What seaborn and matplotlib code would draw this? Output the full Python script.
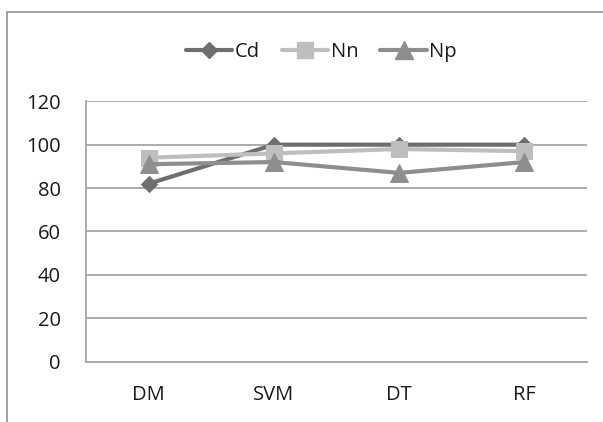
import matplotlib
matplotlib.use("Agg")
import matplotlib.pyplot as plt
from matplotlib.lines import Line2D
import seaborn as sns
import pandas as pd

categories = ["DM", "SVM", "DT", "RF"]
cd_values = [82, 100, 100, 100]
nn_values = [94, 96, 98, 97]
np_values = [91, 92, 87, 92]
series_names = ["Cd", "Nn", "Np"]
y_ticks = [0, 20, 40, 60, 80, 100, 120]

sns.set_theme(style="white")
plt.rcParams["font.family"] = ["Open Sans", "DejaVu Sans"]

df = pd.DataFrame({
    "category": categories * 3,
    "value": cd_values + nn_values + np_values,
    "series": [s for s in series_names for _ in categories],
})

colors = {"Cd": "#6E6E6E", "Nn": "#BEBEBE", "Np": "#8E8E8E"}
markers = {"Cd": "D", "Nn": "s", "Np": "^"}
msizes = {"Cd": 8.5, "Nn": 12, "Np": 13}
fs = 14.5

fig = plt.figure(figsize=(6.03, 4.22), dpi=100)
ax = fig.add_axes([0.1426, 0.1429, 0.9735 - 0.1426, 0.76 - 0.1429])

grid_c = "#A6A6A6"
for yv in y_ticks:
    ax.axhline(yv, color=grid_c, lw=1.3, zorder=0)

for s in series_names:
    sub = df[df["series"] == s]
    sns.lineplot(data=sub, x="category", y="value", ax=ax, color=colors[s],
                 marker=markers[s], markersize=msizes[s], markeredgecolor=colors[s],
                 linewidth=3, sort=False, label=s, legend=False, zorder=3)

ax.set_xlim(-0.5, 3.5)
ax.set_ylim(0, 120)
ax.set_yticks(y_ticks)
ax.set_xticks(range(len(categories)))
ax.set_xticklabels(categories)
ax.set_xticks([-0.5, 0.5, 1.5, 2.5, 3.5], minor=True)
ax.tick_params(axis="x", which="major", length=0, pad=16.5, labelsize=fs, labelcolor="#1A1A1A")
ax.tick_params(axis="x", which="minor", length=8, width=1.3, color=grid_c, direction="out")
ax.tick_params(axis="y", which="major", length=8, width=1.3, color=grid_c, direction="out",
               labelsize=fs, pad=10, labelcolor="#1A1A1A")
ax.set_xlabel("")
ax.set_ylabel("")
for side in ["top", "right"]:
    ax.spines[side].set_visible(False)
ax.spines["left"].set_color(grid_c)
ax.spines["left"].set_linewidth(1.3)
ax.spines["bottom"].set_color(grid_c)
ax.spines["bottom"].set_linewidth(1.3)

handles = [Line2D([], [], color=colors[s], marker=markers[s], markersize=msizes[s],
                  markeredgecolor=colors[s], linewidth=3) for s in series_names]
fig.legend(handles, series_names, loc="center", bbox_to_anchor=(0.533, 0.877), ncol=3,
           frameon=False, fontsize=fs, handlelength=2.3, handletextpad=0.12,
           columnspacing=1.1, labelcolor="#1A1A1A")

# outer chart border (top and left visible)
fig.add_artist(Line2D([7 / 603, 1.0], [1 - 12 / 422, 1 - 12 / 422], color="#9A9A9A",
                      lw=1.3, transform=fig.transFigure))
fig.add_artist(Line2D([7 / 603, 7 / 603], [0, 1 - 12 / 422], color="#9A9A9A",
                      lw=1.3, transform=fig.transFigure))

fig.savefig("out.png", dpi=100, facecolor="white")
